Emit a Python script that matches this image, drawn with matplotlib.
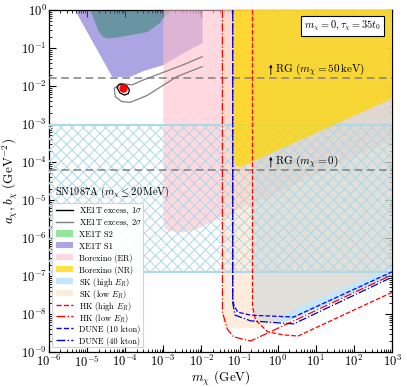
import numpy as np
import matplotlib.pyplot as plt
import matplotlib.ticker as mticker
from matplotlib.patches import Patch, Rectangle
from matplotlib.lines import Line2D

plt.rcParams.update({
    'font.family': 'serif',
    'font.serif': ['cmr10'],
    'mathtext.fontset': 'cm',
    'axes.formatter.use_mathtext': True,
    'hatch.linewidth': 0.7,
    'axes.linewidth': 0.9,
})

# all values are log10(m_chi / GeV), log10(coupling / GeV^-2)
s2_x = [-4.92, -4.7, -4.6, -4.45, -4.2, -3.8, -3.42, -3.1, -3.0, -2.76]
s2_y = [0.0, -0.55, -0.7, -0.75, -0.72, -0.65, -0.58, -0.35, -0.21, 0.0]

s1_x = [-5.32, -4.34, -3.87, -3.5, -3.0, -2.5, -1.97, -1.97]
s1_y = [0.0, -1.76, -1.76, -1.6, -1.45, -1.15, -0.87, 0.0]

er_x = [-3.0, -3.0, -2.95, -2.85, -2.5, -2.2, 3.0, 3.0]
er_y = [0.0, -5.6, -5.75, -5.82, -5.85, -5.8, -3.4, 0.0]

sk_low_x = [-1.45, -1.45, -1.4, -1.3, -0.5, 0.0, 0.34, 3.0, 3.0]
sk_low_y = [0.0, -8.15, -8.3, -8.37, -8.37, -8.22, -7.92, -6.76, 0.0]

sk_high_x = [-0.66, -0.66, -0.6, -0.45, 0.25, 3.0, 3.0]
sk_high_y = [0.0, -7.85, -8.08, -8.2, -8.2, -7.0, 0.0]

nr_x = [-1.16, -1.16, -1.12, -1.03, -0.97, 3.0, 3.0]
nr_y = [0.0, -3.95, -4.08, -4.14, -4.13, -2.33, 0.0]

sn_lo, sn_hi = -6.9, -3.03

hk_hi_x = [-0.66, -0.66, -0.58, -0.26, 0.16, 0.53, 3.0]
hk_hi_y = [0.0, -7.8, -8.16, -8.47, -8.55, -8.58, -7.43]

hk_lo_x = [-1.45, -1.45, -1.32, -1.16, -0.71, 3.0]
hk_lo_y = [0.0, -7.95, -8.4, -8.6, -8.71, -6.97]

dune10_x = [-1.18, -1.18, -1.15, -1.05, -0.71, 0.42, 3.0]
dune10_y = [0.0, -7.6, -7.76, -7.95, -8.03, -8.08, -6.89]

dune40_x = [-1.18, -1.18, -1.12, -0.71, 0.42, 3.0]
dune40_y = [0.0, -7.7, -8.03, -8.18, -8.26, -7.03]

sig1_x = [-4.21, -4.17, -4.07, -3.96, -3.89, -3.92, -4.02, -4.14, -4.21]
sig1_y = [-2.05, -1.97, -1.95, -1.99, -2.1, -2.2, -2.24, -2.18, -2.05]

sig2_x = [-1.98, -2.5, -3.08, -3.5, -3.82, -4.13, -4.29, -4.26, -4.09, -3.87, -3.43, -2.64, -1.98]
sig2_y = [-1.23, -1.45, -1.67, -1.83, -1.97, -1.93, -2.06, -2.28, -2.41, -2.43, -2.25, -1.75, -1.49]

best_fit = (-4.06, -2.06)
rg_50kev = -1.78
rg_0 = -4.21


def p(v):
    return 10 ** np.array(v, dtype=float)


fig = plt.figure(figsize=(4.07, 3.87), dpi=100)
ax = fig.add_axes([0.1204, 0.0904, 0.8428, 0.8837])

ax.fill(p(s2_x), p(s2_y), color='#68db70', lw=0, zorder=1)
ax.fill(p(s1_x), p(s1_y), color='slateblue', alpha=0.55, lw=0, zorder=2)
ax.fill(p(er_x), p(er_y), color='pink', alpha=0.6, lw=0, zorder=3)
ax.fill(p(sk_high_x), p(sk_high_y), color='lightskyblue', alpha=0.5, lw=0, zorder=4)
ax.fill(p(sk_low_x), p(sk_low_y), color='peachpuff', alpha=0.5, lw=0, zorder=5)

ax.fill_between([1e-6, 1e3], 10 ** sn_lo, 10 ** sn_hi, facecolor='none',
                edgecolor='#add8e6', hatch='xxx', lw=0, zorder=6)
ax.axhline(10 ** sn_lo, color='#add8e6', lw=1.5, zorder=6)
ax.axhline(10 ** sn_hi, color='#add8e6', lw=1.5, zorder=6)

ax.fill(p(nr_x), p(nr_y), color='gold', alpha=0.75, lw=0, zorder=7)

ax.axhline(10 ** rg_50kev, color='gray', ls=(0, (5, 3)), lw=1.1, zorder=8)
ax.axhline(10 ** rg_0, color='gray', ls=(0, (5, 3)), lw=1.1, zorder=8)

ax.plot(p(hk_hi_x), p(hk_hi_y), color='red', ls='--', lw=0.9, zorder=9)
ax.plot(p(hk_lo_x), p(hk_lo_y), color='red', ls='-.', lw=0.9, zorder=9)
ax.plot(p(dune10_x), p(dune10_y), color='blue', ls='--', lw=0.9, zorder=9)
ax.plot(p(dune40_x), p(dune40_y), color='mediumblue', ls='-.', lw=0.9, zorder=9)

ax.plot(p(sig2_x), p(sig2_y), color='gray', lw=0.9, zorder=10)
ax.plot(p(sig1_x), p(sig1_y), color='black', lw=0.9, zorder=10)
ax.plot(10 ** best_fit[0], 10 ** best_fit[1], 'o', color='red', ms=5, zorder=11)

# RG labels with small arrows
for yl, lab in [(rg_50kev, r'RG ($m_\chi = 50\,\mathrm{keV}$)'), (rg_0, r'RG ($m_\chi = 0$)')]:
    ax.annotate('', xy=(10 ** -0.18, 10 ** (yl + 0.42)), xytext=(10 ** -0.18, 10 ** yl),
                arrowprops=dict(arrowstyle='-|>', lw=0.6, color='black', mutation_scale=4), zorder=12)
    ax.text(10 ** -0.06, 10 ** (yl + 0.22), lab, fontsize=8, va='center', ha='left', zorder=12)

ax.text(10 ** -5.85, 10 ** -4.8, r'SN1987A ($m_\chi \leq 20\,\mathrm{MeV}$)', fontsize=7.5,
        va='center', ha='left', zorder=12)

ax.text(0.856, 0.953, r'$m_\chi = 0, \tau_\chi = 35 t_0$', transform=ax.transAxes, fontsize=7.5,
        ha='center', va='center', zorder=12,
        bbox=dict(boxstyle='square,pad=0.3', fc='white', ec='black', lw=0.8))

ax.set_xscale('log')
ax.set_yscale('log')
ax.set_xlim(1e-6, 1e3)
ax.set_ylim(1e-9, 1e0)
ax.xaxis.set_major_locator(mticker.LogLocator(base=10, numticks=20))
ax.yaxis.set_major_locator(mticker.LogLocator(base=10, numticks=20))
ax.xaxis.set_minor_locator(mticker.LogLocator(base=10, subs=np.arange(2, 10), numticks=20))
ax.yaxis.set_minor_locator(mticker.LogLocator(base=10, subs=np.arange(2, 10), numticks=20))
ax.xaxis.set_minor_formatter(mticker.NullFormatter())
ax.yaxis.set_minor_formatter(mticker.NullFormatter())
ax.tick_params(which='both', direction='in', top=True, right=True, labelsize=9, pad=1.5)
ax.tick_params(which='major', length=5, width=0.8)
ax.tick_params(which='minor', length=2.5, width=0.6)
ax.set_xlabel(r'$m_\chi$ (GeV)', fontsize=9.5)
ax.set_ylabel(r'$a_\chi, b_\chi\ (\mathrm{GeV}^{-2})$', fontsize=9.5)
ax.xaxis.set_label_coords(0.5, -0.05)
ax.yaxis.set_label_coords(-0.085, 0.5)

handles = [
    Line2D([], [], color='black', lw=1),
    Line2D([], [], color='gray', lw=1),
    Patch(color='#68db70', alpha=0.7, lw=0),
    Patch(color='slateblue', alpha=0.55, lw=0),
    Patch(color='pink', alpha=0.6, lw=0),
    Patch(color='gold', alpha=0.75, lw=0),
    Patch(color='lightskyblue', alpha=0.5, lw=0),
    Patch(color='peachpuff', alpha=0.5, lw=0),
    Line2D([], [], color='red', ls='--', lw=1),
    Line2D([], [], color='red', ls='-.', lw=1),
    Line2D([], [], color='blue', ls='--', lw=1),
    Line2D([], [], color='mediumblue', ls='-.', lw=1),
]
labels = [
    r'XE1T excess, 1$\sigma$', r'XE1T excess, 2$\sigma$', 'XE1T S2', 'XE1T S1',
    'Borexino (ER)', 'Borexino (NR)', r'SK (high $E_R$)', r'SK (low $E_R$)',
    r'HK (high $E_R$)', r'HK (low $E_R$)', 'DUNE (10 kton)', 'DUNE (40 kton)',
]

# legend laid out by hand so every row gets the same height
ax.add_patch(Rectangle((0.0087, 0.0146), 0.2655, 0.4215, transform=ax.transAxes,
                       facecolor=(1, 1, 1, 0.92), edgecolor='lightgray', lw=0.8, zorder=20))
row_top, row_step = 0.433, 0.0346
for i, (h, lab) in enumerate(zip(handles, labels)):
    yc = row_top - (i + 0.5) * row_step
    if isinstance(h, Line2D):
        ax.add_artist(Line2D([0.021, 0.07], [yc, yc], transform=ax.transAxes, color=h.get_color(),
                             ls=h.get_linestyle(), lw=1, zorder=21))
    else:
        ax.add_artist(Rectangle((0.021, yc - 0.009), 0.049, 0.018, transform=ax.transAxes,
                                facecolor=h.get_facecolor(), lw=0, zorder=21))
    ax.text(0.088, yc, lab, transform=ax.transAxes, fontsize=6, ha='left',
            va='center_baseline', zorder=22)

fig.savefig('out.png', dpi=100)
